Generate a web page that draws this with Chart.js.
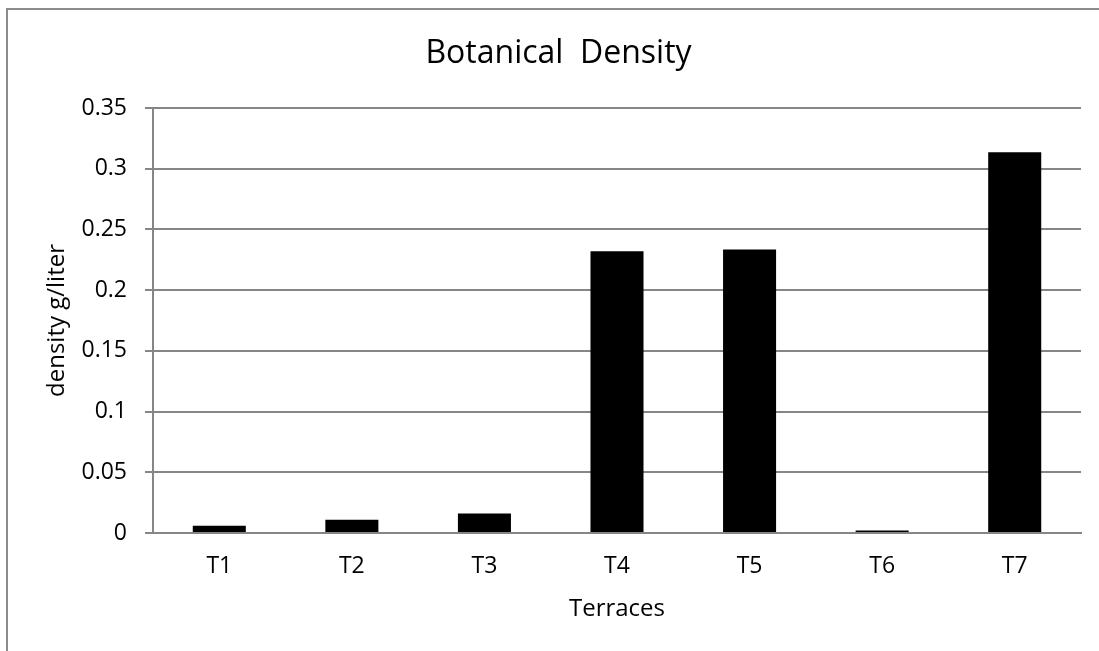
<!DOCTYPE html>
<html>
<head>
<meta charset="utf-8">
<script src="https://cdn.jsdelivr.net/npm/chart.js@4.4.1/dist/chart.umd.min.js"></script>
<style>
  html, body { margin: 0; padding: 0; background: #fff; overflow: hidden; }
  #wrap { width: 1099px; height: 651px; position: relative; }
</style>
</head>
<body>
<div id="wrap"><canvas id="bar-chart"></canvas></div>
<script>
// terraces and measured botanical density (g/liter)
const terraces = ["T1", "T2", "T3", "T4", "T5", "T6", "T7"];
const density = [0.006, 0.011, 0.016, 0.232, 0.2335, 0.002, 0.3135];
const yMin = 0, yMax = 0.35, yStep = 0.05;

const frame = {
  id: 'frame',
  beforeDraw(chart) {
    const c = chart.ctx;
    c.save();
    c.fillStyle = '#fff';
    c.fillRect(0, 0, chart.width, chart.height);
    c.strokeStyle = '#8c8c8c';
    c.lineWidth = 2;
    c.beginPath();
    c.moveTo(7, chart.height);
    c.lineTo(7, 9);
    c.lineTo(chart.width, 9);
    c.stroke();
    c.restore();
  }
};

Chart.defaults.font.family = "'Open Sans', sans-serif";
Chart.defaults.color = '#000';

new Chart(document.getElementById("bar-chart"), {
  type: 'bar',
  data: {
    labels: terraces,
    datasets: [
      {
        label: "density",
        backgroundColor: "#000",
        borderWidth: 0,
        data: density,
        barPercentage: 0.4,
        categoryPercentage: 1.0
      }
    ]
  },
  options: {
    responsive: true,
    maintainAspectRatio: false,
    animation: false,
    layout: { padding: { left: 36, right: 18, top: 0, bottom: 0 } },
    plugins: {
      legend: { display: false },
      tooltip: { enabled: false },
      title: {
        display: true,
        text: 'Botanical  Density',
        font: { size: 32, weight: 'normal' },
        padding: { top: 35, bottom: 34.6 }
      }
    },
    scales: {
      x: {
        grid: { display: true, color: 'transparent', drawTicks: false },
        border: { display: true, color: '#868686', width: 2 },
        ticks: { font: { size: 23 }, padding: 20 },
        title: {
          display: true,
          text: 'Terraces',
          font: { size: 24 },
          padding: { top: 0, bottom: 27 }
        },
        afterFit(scale) { scale.height = 118; }
      },
      y: {
        min: yMin,
        max: yMax,
        grid: { color: '#868686', lineWidth: 2, tickLength: 8 },
        border: { display: true, color: '#868686', width: 2 },
        ticks: {
          stepSize: yStep,
          font: { size: 23 },
          padding: 18,
          callback: v => String(parseFloat(v.toFixed(2)))
        },
        title: {
          display: true,
          text: 'density g/liter',
          font: { size: 24 },
          padding: { top: 6.6, bottom: 0 }
        },
        afterFit(scale) { scale.width = 117; }
      }
    }
  },
  plugins: [frame]
});
</script>
</body>
</html>
